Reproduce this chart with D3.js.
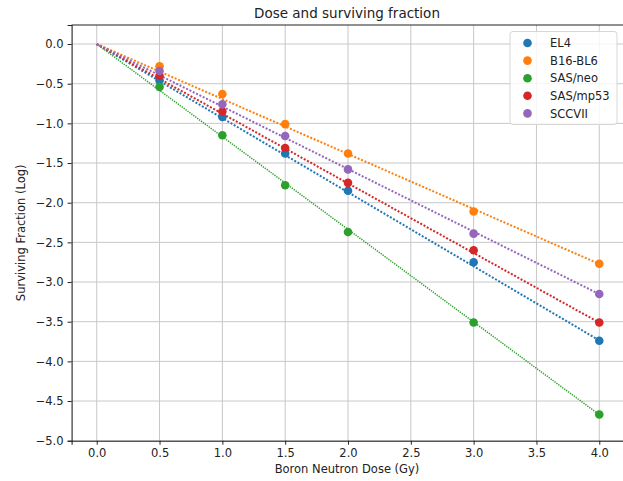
<!DOCTYPE html>
<html><head><meta charset="utf-8">
<script src="https://cdn.jsdelivr.net/npm/d3@7"></script>
<style>body{margin:0;background:#fff}svg{display:block;font-family:"DejaVu Sans",sans-serif}</style>
</head><body><svg id="c" width="623" height="481"></svg>
<script>
const doses = [0.5, 1.0, 1.5, 2.0, 3.0, 4.0];
const seriesNames = ["EL4", "B16-BL6", "SAS/neo", "SAS/mp53", "SCCVII"];
const colors = ["#1f77b4", "#ff7f0e", "#2ca02c", "#d62728", "#9467bd"];
const el4 = [-0.46, -0.92, -1.38, -1.85, -2.75, -3.74];
const b16 = [-0.28, -0.63, -1.01, -1.38, -2.11, -2.77];
const sasNeo = [-0.54, -1.15, -1.78, -2.37, -3.51, -4.67];
const sasMp53 = [-0.40, -0.85, -1.31, -1.75, -2.60, -3.51];
const sccvii = [-0.34, -0.76, -1.16, -1.58, -2.39, -3.15];
const fitSlopes = [-0.934, -0.693, -1.168, -0.878, -0.788];
const xTicks = [0, 0.5, 1, 1.5, 2, 2.5, 3, 3.5, 4];
const yTicks = [0, -0.5, -1, -1.5, -2, -2.5, -3, -3.5, -4, -4.5, -5];
const allSeries = [el4, b16, sasNeo, sasMp53, sccvii];

const svg = d3.select("#c");
const L = 71.6, R = 624.4, T = 25, B = 440.7;
const x = d3.scaleLinear().domain([-0.2, 4.2]).range([L, R]);
const y = d3.scaleLinear().domain([-5, 0.24]).range([B, T]);
const fmt = d => d3.format(".1f")(d).replace("-", "\u2212");

// grid
svg.append("g").selectAll("line").data(xTicks).join("line")
  .attr("x1", d => x(d)).attr("x2", d => x(d)).attr("y1", T).attr("y2", B)
  .attr("stroke", "#c8c8c8").attr("stroke-width", 1);
svg.append("g").selectAll("line").data(yTicks).join("line")
  .attr("x1", L).attr("x2", R).attr("y1", d => y(d)).attr("y2", d => y(d))
  .attr("stroke", "#c8c8c8").attr("stroke-width", 1);

// fit lines
const lineGen = d3.line().x(d => x(d[0])).y(d => y(d[1]));
fitSlopes.forEach((s, i) => {
  const fine = i === 2;
  svg.append("path").datum([[0, 0], [4, 4 * s]])
    .attr("d", lineGen).attr("fill", "none").attr("stroke", colors[i])
    .attr("stroke-width", fine ? 1.5 : 2).attr("stroke-dasharray", fine ? "1.3,1.1" : "2,1.7");
});
// points
allSeries.forEach((vals, i) => {
  svg.append("g").selectAll("circle").data(vals).join("circle")
    .attr("cx", (d, j) => x(doses[j])).attr("cy", d => y(d)).attr("r", 4.3)
    .attr("fill", colors[i]);
});

// axes
const xAxis = svg.append("g").attr("transform", `translate(0,${B})`)
  .call(d3.axisBottom(x).tickValues(xTicks).tickFormat(fmt).tickSize(4).tickPadding(4));
const yAxis = svg.append("g").attr("transform", `translate(${L},0)`)
  .call(d3.axisLeft(y).tickValues(yTicks).tickFormat(fmt).tickSize(4).tickPadding(4));
[xAxis, yAxis].forEach(a => {
  a.select(".domain").attr("stroke", "#222").attr("stroke-width", 1.1);
  a.selectAll(".tick line").attr("stroke", "#222").attr("stroke-width", 1);
  a.selectAll(".tick text").attr("fill", "#222").style("font-size", "11.5px").style("font-family", "DejaVu Sans");
});
// top spine
svg.append("line").attr("x1", L).attr("x2", R).attr("y1", T).attr("y2", T).attr("stroke", "#222").attr("stroke-width", 1.1);

// labels
svg.append("text").attr("x", (L + R) / 2 - 1).attr("y", 18).attr("text-anchor", "middle")
  .style("font-size", "13.5px").attr("fill", "#222").text("Dose and surviving fraction");
svg.append("text").attr("x", (L + R) / 2 - 1).attr("y", 473).attr("text-anchor", "middle")
  .style("font-size", "11.5px").attr("fill", "#222").text("Boron Neutron Dose (Gy)");
svg.append("text").attr("transform", `translate(25,${(T + B) / 2}) rotate(-90)`).attr("text-anchor", "middle")
  .style("font-size", "11.5px").attr("fill", "#222").text("Surviving Fraction (Log)");

// legend
const lg = svg.append("g");
lg.append("rect").attr("x", 510).attr("y", 31.5).attr("width", 107).attr("height", 93).attr("rx", 3)
  .attr("fill", "#fff").attr("fill-opacity", 0.8).attr("stroke", "#d6d6d6");
seriesNames.forEach((n, i) => {
  const yy = 43 + i * 17.6;
  lg.append("circle").attr("cx", 527.5).attr("cy", yy).attr("r", 4.3).attr("fill", colors[i]);
  lg.append("text").attr("x", 550).attr("y", yy + 4.2).style("font-size", "11.5px").attr("fill", "#222").text(n);
});
</script></body></html>
